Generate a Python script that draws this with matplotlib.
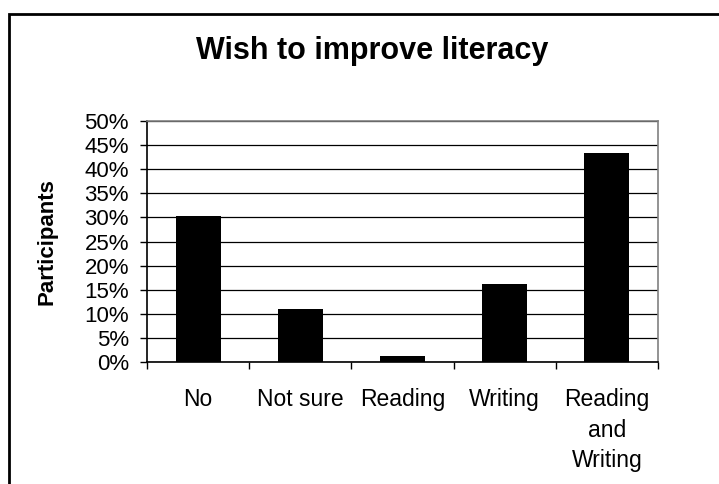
import matplotlib.pyplot as plt
from matplotlib.patches import Rectangle
from matplotlib.ticker import MultipleLocator, PercentFormatter

plt.rcParams['font.family'] = ['Liberation Sans', 'DejaVu Sans']

categorias = ['No', 'Not sure', 'Reading', 'Writing', 'Reading\nand\nWriting']
porcentajes = [30.2, 10.9, 1.2, 16.1, 43.3]

fig = plt.figure(figsize=(7.19, 4.84), dpi=100)
ax = fig.add_axes([147 / 719, 1 - 362 / 484, 511 / 719, 241 / 484])

x = range(len(categorias))
ax.bar(x, porcentajes, width=0.44, color='black', zorder=3)

ax.set_xlim(-0.5, len(categorias) - 0.5)
ax.set_ylim(0, 50)
ax.yaxis.set_major_locator(MultipleLocator(5))
ax.yaxis.set_major_formatter(PercentFormatter(decimals=0))
ax.grid(axis='y', color='black', linewidth=0.9, zorder=0)

# etiquetas centradas en cada barra, marcas entre categorias
ax.set_xticks([i - 0.5 for i in range(len(categorias) + 1)])
ax.set_xticklabels([])
ax.set_xticks(list(x), minor=True)
ax.set_xticklabels(categorias, minor=True, fontsize=16.5, linespacing=1.4)
ax.tick_params(axis='x', which='minor', length=0, pad=19)
ax.tick_params(axis='x', which='major', length=5, width=1, direction='out')
ax.tick_params(axis='y', length=5, width=1, labelsize=16, pad=8)

for lado in ['top', 'right']:
    ax.spines[lado].set_color('#808080')
for lado in ['left', 'bottom']:
    ax.spines[lado].set_color('black')
for s in ax.spines.values():
    s.set_linewidth(1.2)

fig.text(47 / 719, 1 - 242 / 484, 'Participants', rotation=90, ha='center',
         va='center', fontsize=16, fontweight='bold')
fig.text(372 / 719, 1 - 51 / 484, 'Wish to improve literacy', ha='center',
         va='center', fontsize=22, fontweight='bold')

# marco exterior del grafico
fig.patches.append(Rectangle((9 / 719, -0.1), 1.1, 1 - 14 / 484 + 0.1,
                             transform=fig.transFigure, fill=False,
                             edgecolor='black', linewidth=2))

plt.savefig('out.png', dpi=100)
